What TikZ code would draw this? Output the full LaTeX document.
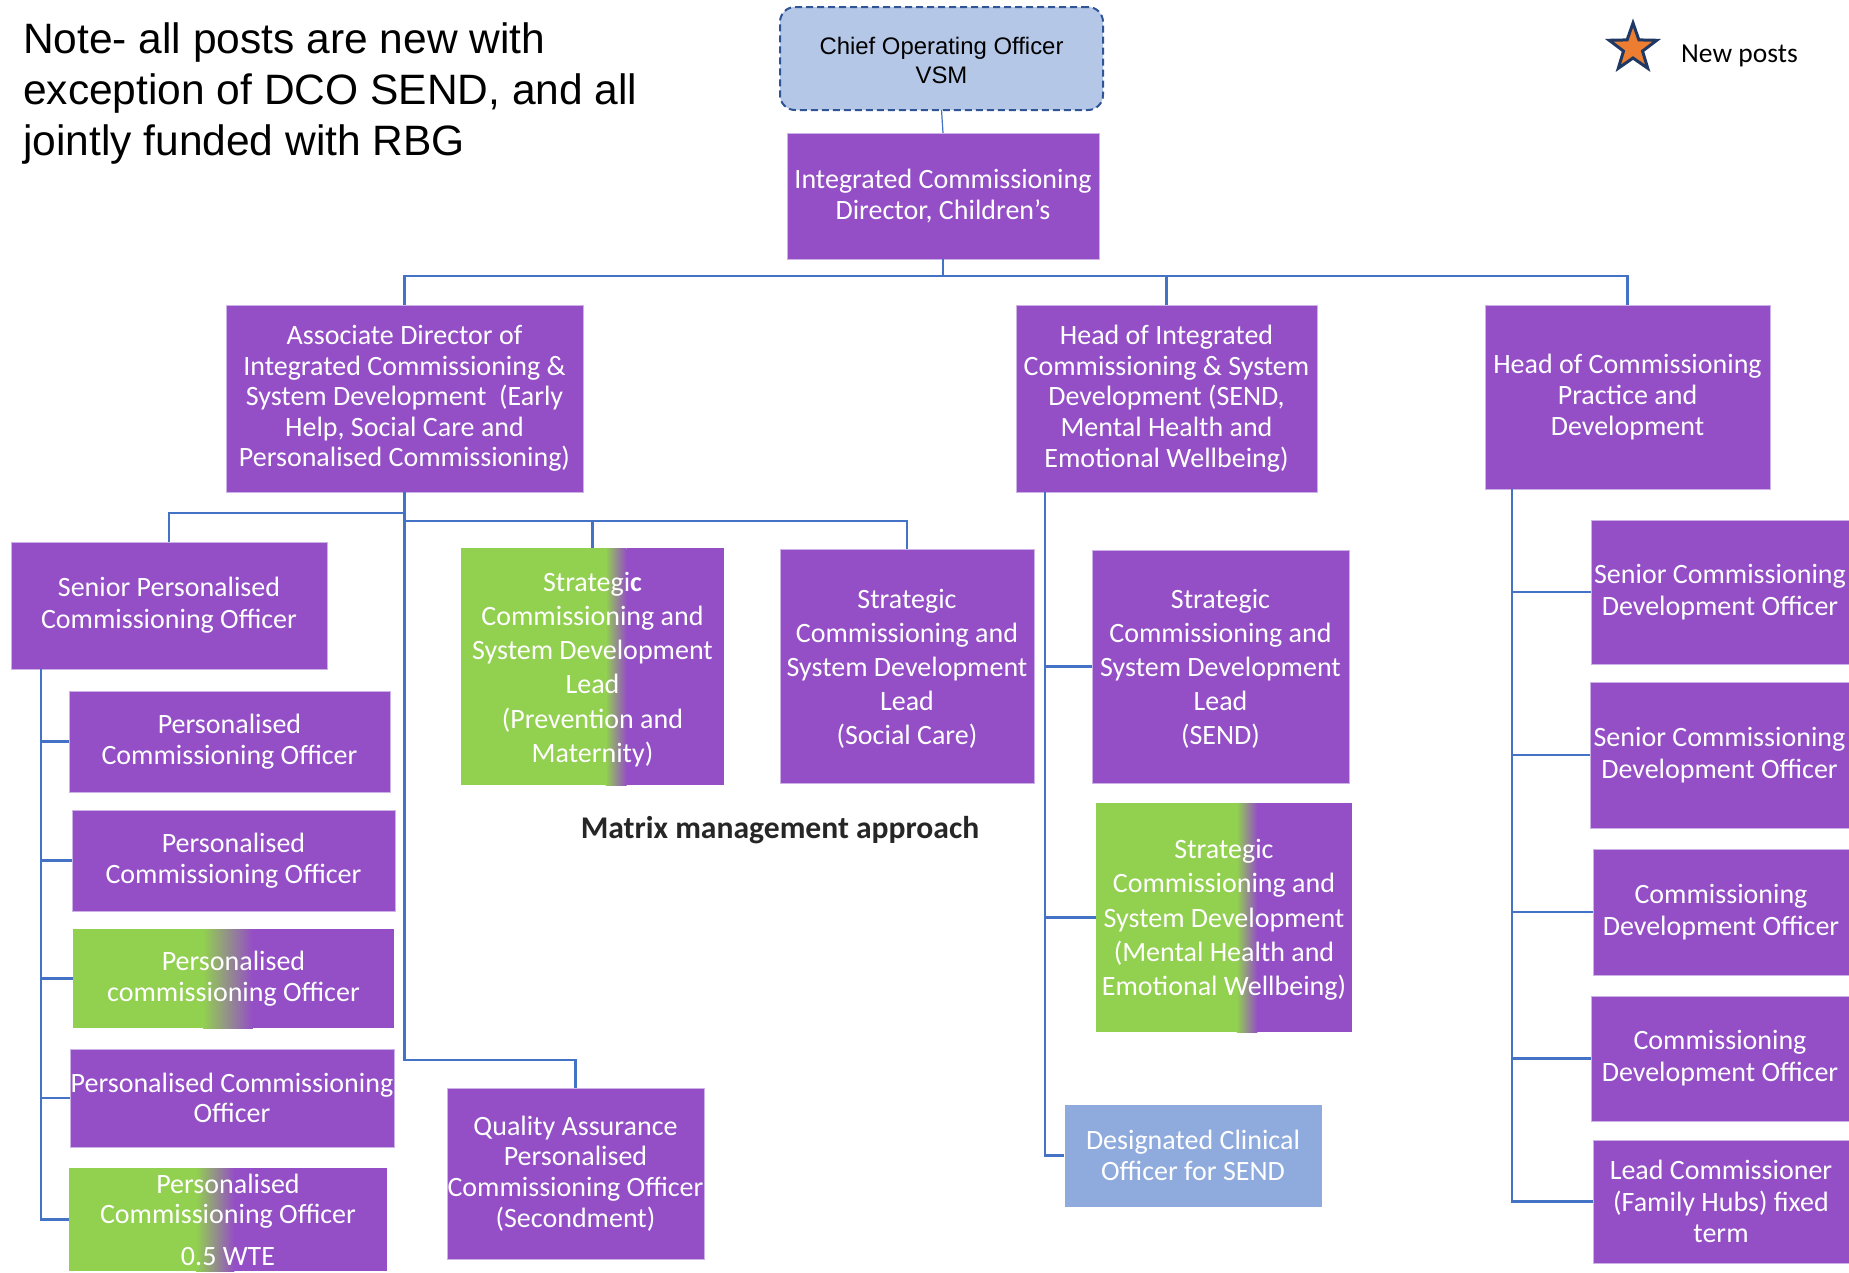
\documentclass[tikz,border=0pt]{standalone}
\usepackage{fontspec}
\setmainfont{Carlito}
\newfontfamily\arialf{Liberation Sans}
\usetikzlibrary{calc,shapes.geometric}
\definecolor{cpurple}{RGB}{148,78,198}
\definecolor{cgreen}{RGB}{146,208,80}
\definecolor{cline}{RGB}{68,114,196}
\definecolor{cdco}{RGB}{143,170,220}
\definecolor{ccoo}{RGB}{180,199,231}
\definecolor{ccooborder}{RGB}{47,85,151}
\definecolor{cborder}{RGB}{205,178,232}
\definecolor{corange}{RGB}{237,125,49}
\definecolor{cnavy}{RGB}{31,56,100}
\definecolor{cdark}{RGB}{38,38,38}
\newcommand\boxfnt{\fontsize{28}{30.6}\selectfont}
\newcommand\stratfnt{\fontsize{28}{34.2}\selectfont}
\newcommand\rightfnt{\fontsize{28}{31.8}\selectfont}
\tikzset{
  conn/.style={draw=cline, line width=2.7pt},
  thinconn/.style={draw=cline, line width=1.2pt},
  box/.style={fill=cpurple, draw=cborder, line width=1pt, text=white, font=\boxfnt,
    align=center, inner sep=0pt, outer sep=0pt, anchor=north west},
  stratbox/.style={box, font=\stratfnt},
  rbox/.style={box, font=\rightfnt},
  gradbox/.style 2 args={box, draw=none, fill=none, path picture={
    \coordinate (gsw) at (path picture bounding box.south west);
    \coordinate (gne) at (path picture bounding box.north east);
    \coordinate (ga) at ($(gsw)!#1!(gsw -| gne)$);
    \coordinate (gb) at ($(gsw)!#2!(gsw -| gne)$);
    \fill[cgreen] (gsw) rectangle (ga |- gne);
    \shade[left color=cgreen, right color=cpurple] (ga) rectangle (gb |- gne);
    \fill[cpurple] (gb) rectangle (gne);
  }},
}
\begin{document}
\begin{tikzpicture}[x=1pt,y=-1pt]
\useasboundingbox[fill=white] (0,0) rectangle (1849,1272);

% note and legend
\node[anchor=north west, align=left, inner sep=0pt, font=\arialf\fontsize{42.5}{50.7}\selectfont] (note) at (23,23)
  {Note- all posts are new with\\exception of DCO SEND, and all\\jointly funded with RBG};
\node[star, star points=5, star point ratio=2.5, minimum size=50pt, inner sep=0pt,
  fill=corange, draw=cnavy, line width=3pt] (star) at (1633,48) {};
\node[anchor=west, inner sep=0pt, font=\fontsize{27.5}{30}\selectfont] (newposts) at (1681,56) {New posts};

% top
\node[box, fill=ccoo, draw=ccooborder, line width=2pt, dash pattern=on 7pt off 4pt, rounded corners=15pt,
  text=black, font=\arialf\fontsize{23.9}{28.3}\selectfont, minimum width=323pt, minimum height=103pt] (coo) at (780,7)
  {\rule{0pt}{21pt}Chief Operating Officer\\VSM};
\node[box, minimum width=312pt, minimum height=126pt] (icd) at (787,133)
  {Integrated Commissioning\\Director, Children’s};

\node[box, minimum width=357pt, minimum height=187pt] (ad) at (226,305)
  {Associate Director of\\Integrated Commissioning \&\\System Development\ \ (Early\\Help, Social Care and\\Personalised Commissioning)};
\node[box, minimum width=301pt, minimum height=187pt] (hs) at (1016,305)
  {Head of Integrated\\Commissioning \& System\\Development (SEND,\\Mental Health and\\Emotional Wellbeing)};
\node[box, minimum width=285pt, minimum height=184pt] (hcp) at (1485,305)
  {Head of Commissioning\\Practice and\\Development};

% left column
\node[box, font=\rightfnt, minimum width=316pt, minimum height=127pt] (spco) at (11,542)
  {Senior Personalised\\Commissioning Officer};
\node[box, minimum width=321pt, minimum height=101pt] (pco1) at (69,691)
  {Personalised\\Commissioning Officer};
\node[box, minimum width=323pt, minimum height=101pt] (pco2) at (72,810)
  {Personalised\\Commissioning Officer};
\node[gradbox={0.405}{0.56}, minimum width=321pt, minimum height=99pt] (pco3) at (73,929)
  {Personalised\\commissioning Officer};
\node[box, minimum width=324pt, minimum height=98pt] (pco4) at (70,1049)
  {Personalised Commissioning\\Officer};
\node[gradbox={0.40}{0.52}, minimum width=318pt, minimum height=103pt] (pco5) at (69,1168)
  {Personalised\\Commissioning Officer\\[10.6pt]0.5 WTE};

% middle
\node[gradbox={0.55}{0.63}, font=\stratfnt, minimum width=263pt, minimum height=237pt] (prev) at (461,548)
  {\rule{0pt}{25pt}Strategi\textbf{c}\\Commissioning and\\System Development\\Lead\\(Prevention and\\Maternity)};
\node[stratbox, minimum width=254pt, minimum height=234pt] (soc) at (780,549)
  {\rule{0pt}{25pt}Strategic\\Commissioning and\\System Development\\Lead\\(Social Care)};
\node[anchor=center, inner sep=0pt, text=cdark, font=\bfseries\fontsize{31.6}{36}\selectfont] (matrix) at (780,830)
  {Matrix management approach};
\node[box, minimum width=257pt, minimum height=171pt] (qa) at (447,1088)
  {Quality Assurance\\Personalised\\Commissioning Officer\\(Secondment)};

\node[stratbox, minimum width=257pt, minimum height=233pt] (send) at (1092,550)
  {\rule{0pt}{24pt}Strategic\\Commissioning and\\System Development\\Lead\\(SEND)};
\node[gradbox={0.55}{0.63}, font=\stratfnt, minimum width=256pt, minimum height=229pt] (mh) at (1096,803)
  {\rule{0pt}{24pt}Strategic\\Commissioning and\\System Development\\(Mental Health and\\Emotional Wellbeing)};
\node[box, fill=cdco, draw=white, minimum width=258pt, minimum height=103pt] (dco) at (1064,1104)
  {Designated Clinical\\Officer for SEND};

% right column
\node[rbox, minimum width=258pt, minimum height=144pt] (scdo1) at (1591,520)
  {Senior Commissioning\\Development Officer};
\node[rbox, minimum width=259pt, minimum height=146pt] (scdo2) at (1590,682)
  {Senior Commissioning\\Development Officer};
\node[rbox, minimum width=256pt, minimum height=126pt] (cdo1) at (1593,849)
  {Commissioning\\Development Officer};
\node[rbox, minimum width=258pt, minimum height=125pt] (cdo2) at (1591,996)
  {Commissioning\\Development Officer};
\node[rbox, minimum width=256pt, minimum height=123pt] (lead) at (1593,1140)
  {Lead Commissioner\\(Family Hubs) fixed\\term};

% connectors
\draw[thinconn] (coo.south) -- (icd.north);
\path (icd.south) ++(0,17) coordinate (bus);
\draw[conn] (icd.south) -- (bus);
\draw[conn] (ad.north) |- (hcp.north |- bus) -- (hcp.north);
\draw[conn] (hs.north) -- (hs.north |- bus);

\draw[conn] (ad.south) -- ++(0,568) -| (qa.north);
\draw[conn] (ad.south) ++(0,21) -| (spco.north);
\path (ad.south) ++(0,29) coordinate (sbus);
\draw[conn] (sbus) -| (soc.north);
\draw[conn] (prev.north) -- (prev.north |- sbus);

\coordinate (spv) at ([xshift=30pt]spco.south west);
\foreach \n in {pco1,pco2,pco3,pco4,pco5} \draw[conn] (spv) |- (\n.west);

\coordinate (hsv) at ([xshift=29pt]hs.south west);
\foreach \n in {send,mh,dco} \draw[conn] (hsv) |- (\n.west);

\coordinate (hcv) at ([xshift=27pt]hcp.south west);
\foreach \n in {scdo1,scdo2,cdo1,cdo2,lead} \draw[conn] (hcv) |- (\n.west);
\end{tikzpicture}
\end{document}
